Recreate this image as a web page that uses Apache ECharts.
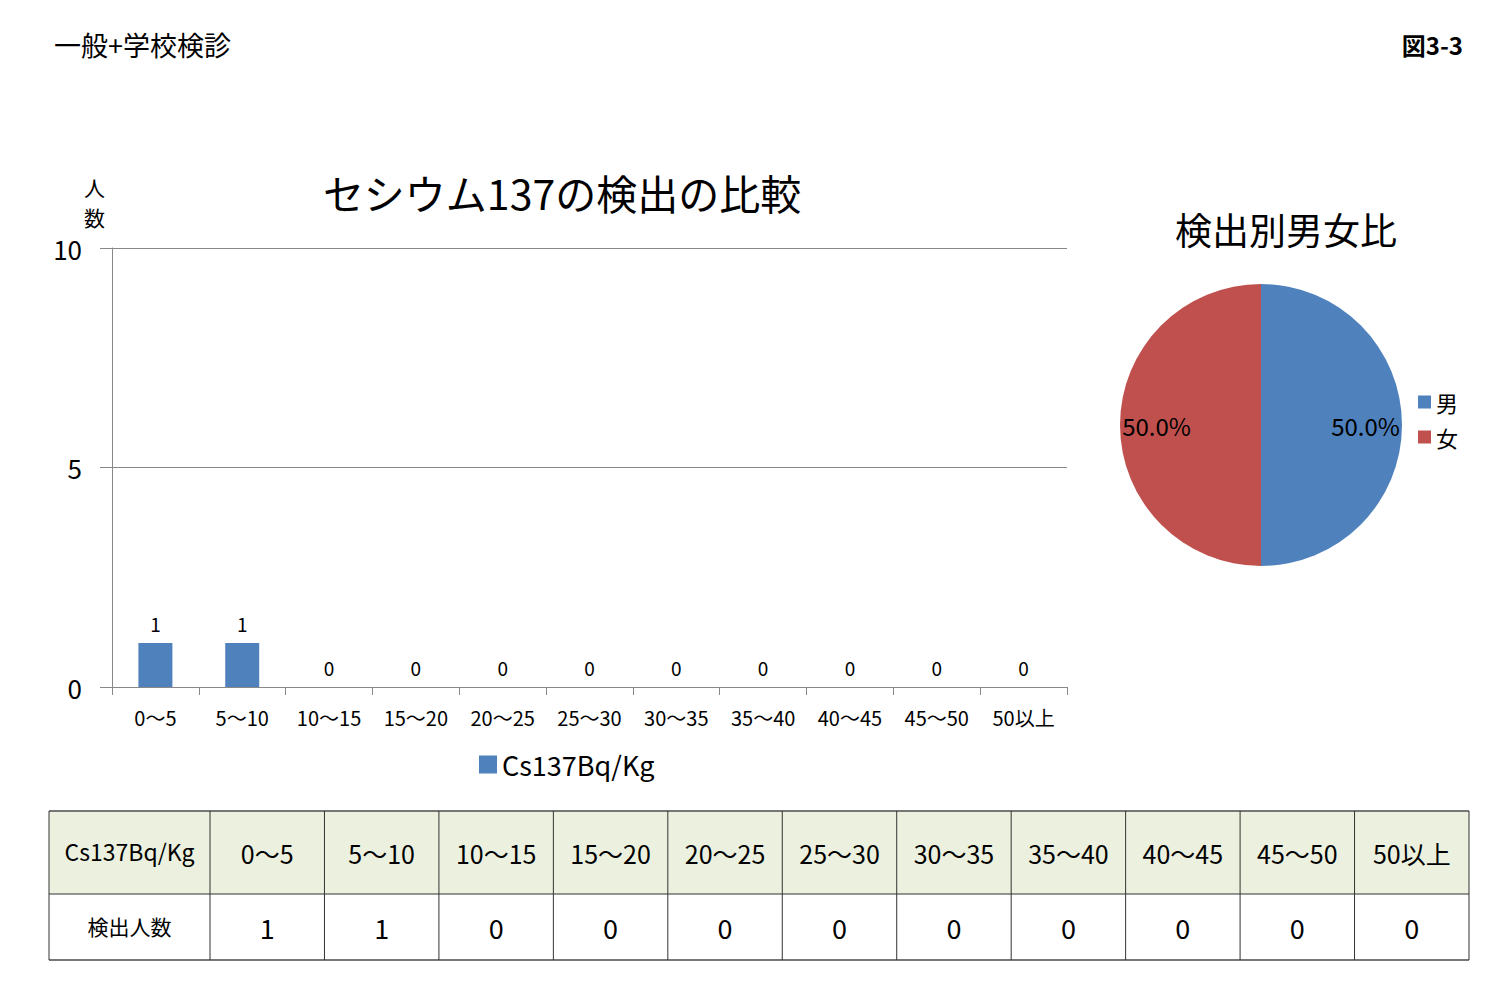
<!DOCTYPE html>
<html>
<head>
<meta charset="utf-8">
<script src="https://cdn.jsdelivr.net/npm/echarts@6/dist/echarts.min.js"></script>
<style>
  html, body { margin: 0; padding: 0; background: #fff; }
  #main { width: 1512px; height: 1008px; }
</style>
</head>
<body>
<div id="main"></div>
<script>
// data
var categories = ['0～5', '5～10', '10～15', '15～20', '20～25', '25～30', '30～35', '35～40', '40～45', '45～50', '50以上'];
var counts = [1, 1, 0, 0, 0, 0, 0, 0, 0, 0, 0];
var yTicks = [0, 5, 10];
var genders = ['男', '女'];
var genderCounts = [1, 1];
var seriesName = 'Cs137Bq/Kg';
var rowName = '検出人数';

var FONT = '"Noto Sans CJK JP", "Noto Sans", sans-serif';
var BLUE = '#4F81BD', RED = '#C0504D';

var chart = echarts.init(document.getElementById('main'), null, { renderer: 'svg' });

var genderTotal = genderCounts.reduce(function (a, b) { return a + b; }, 0);

// table under the chart, built from the same arrays
function buildTable() {
    var els = [];
    var x0 = 49, x1 = 210, x2 = 1469;
    var yTop = 811, yMid = 894, yBot = 960;
    var cw = (x2 - x1) / categories.length;
    els.push({ type: 'rect', shape: { x: x0, y: yTop, width: x2 - x0, height: yMid - yTop }, style: { fill: '#EBF1DE' }, silent: true });
    // horizontal lines
    els.push({ type: 'line', shape: { x1: x0, y1: yTop, x2: x2, y2: yTop }, style: { stroke: '#777', lineWidth: 2 } });
    els.push({ type: 'line', shape: { x1: x0, y1: yMid, x2: x2, y2: yMid }, style: { stroke: '#333', lineWidth: 1 } });
    els.push({ type: 'line', shape: { x1: x0, y1: yBot, x2: x2, y2: yBot }, style: { stroke: '#777', lineWidth: 2 } });
    // vertical lines
    var xs = [x0, x1];
    for (var i = 1; i <= categories.length; i++) xs.push(x1 + cw * i);
    xs.forEach(function (x) {
        els.push({ type: 'line', shape: { x1: x, y1: yTop, x2: x, y2: yBot }, style: { stroke: '#333', lineWidth: 1 } });
    });
    els.push({ type: 'text', x: (x0 + x1) / 2, y: (yTop + yMid) / 2 - 2, style: { text: seriesName, font: '23px ' + FONT, fill: '#000', align: 'center', verticalAlign: 'middle' } });
    els.push({ type: 'text', x: (x0 + x1) / 2, y: (yMid + yBot) / 2 - 1, style: { text: rowName, font: '21px ' + FONT, fill: '#000', align: 'center', verticalAlign: 'middle' } });
    categories.forEach(function (c, i) {
        var cx = x1 + cw * (i + 0.5);
        els.push({ type: 'text', x: cx, y: (yTop + yMid) / 2, style: { text: c, font: '25px ' + FONT, fill: '#000', align: 'center', verticalAlign: 'middle' } });
        els.push({ type: 'text', x: cx, y: (yMid + yBot) / 2, style: { text: String(counts[i]), font: '27px ' + FONT, fill: '#000', align: 'center', verticalAlign: 'middle' } });
    });
    return els;
}

var graphics = [
    { type: 'text', left: 54, top: 31, style: { text: '一般+学校検診', font: '27px ' + FONT, fill: '#000' } },
    { type: 'text', right: 49, top: 32, style: { text: '図3-3', font: 'bold 24px ' + FONT, fill: '#000' } },
    { type: 'text', left: 84, top: 176, style: { text: '人', font: '21px ' + FONT, lineHeight: 21, fill: '#000' } },
    { type: 'text', left: 84, top: 206, style: { text: '数', font: '21px ' + FONT, lineHeight: 21, fill: '#000' } }
].concat(buildTable());

var option = {
    backgroundColor: '#fff',
    textStyle: { fontFamily: FONT },
    animation: false,
    title: [
        { text: 'セシウム137の検出の比較', left: 557, top: 166, textAlign: 'center', textStyle: { fontSize: 41, fontWeight: 'normal', color: '#000' } },
        { text: '検出別男女比', left: 1281, top: 205, textAlign: 'center', textStyle: { fontSize: 37, fontWeight: 'normal', color: '#000' } }
    ],
    legend: [
        { data: [seriesName], left: 474, top: 746, itemWidth: 18, itemHeight: 18, icon: 'rect', textStyle: { fontSize: 27, color: '#000' } },
        { data: genders, orient: 'vertical', left: 1413, top: 386, itemWidth: 13, itemHeight: 13, itemGap: 13, icon: 'rect', textStyle: { fontSize: 22, color: '#000' } }
    ],
    grid: { left: 112, top: 248, width: 955, height: 439 },
    xAxis: {
        type: 'category',
        data: categories,
        axisLine: { lineStyle: { color: '#888' } },
        axisTick: { show: true, length: 8, lineStyle: { color: '#888' } },
        axisLabel: { fontSize: 20, color: '#000', margin: 20, interval: 0 }
    },
    yAxis: {
        type: 'value',
        min: yTicks[0],
        max: yTicks[yTicks.length - 1],
        interval: yTicks[1] - yTicks[0],
        axisLine: { show: true, lineStyle: { color: '#888' } },
        axisTick: { show: true, length: 12, lineStyle: { color: '#888' } },
        axisLabel: { fontSize: 26, color: '#000', margin: 30 },
        splitLine: { lineStyle: { color: '#888' } }
    },
    series: [
        {
            name: seriesName,
            type: 'bar',
            data: counts,
            barWidth: 34,
            itemStyle: { color: BLUE },
            label: { show: true, position: 'top', distance: 10, fontSize: 19, color: '#000' }
        },
        {
            type: 'pie',
            center: [1261, 425],
            radius: 141,
            startAngle: 90,
            data: genders.map(function (g, i) { return { name: g, value: genderCounts[i] }; }),
            color: [BLUE, RED],
            itemStyle: { borderWidth: 0 },
            label: { show: false },
            labelLine: { show: false }
        },
        {
            // transparent ring only for placing the percentage labels near the rim
            type: 'pie',
            center: [1261, 425],
            radius: [62, 141],
            startAngle: 90,
            silent: true,
            data: genders.map(function (g, i) { return { name: g, value: genderCounts[i] }; }),
            itemStyle: { color: 'rgba(0,0,0,0)' },
            label: {
                show: true, position: 'inside', fontSize: 24, color: '#000',
                formatter: function (p) { return (p.value / genderTotal * 100).toFixed(1) + '%'; }
            },
            labelLine: { show: false }
        }
    ],
    graphic: graphics
};

chart.setOption(option);
</script>
</body>
</html>
